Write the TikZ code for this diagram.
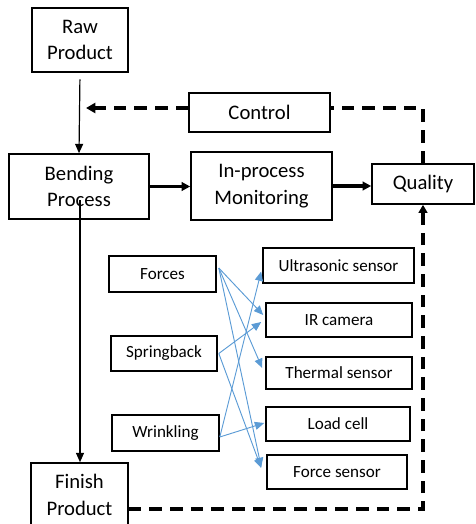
\documentclass[tikz,border=0pt]{standalone}
\usepackage{fontspec}
\setmainfont{Carlito}
\usetikzlibrary{arrows.meta,calc}
\definecolor{linkblue}{RGB}{91,155,213}
\tikzset{
  bigbox/.style={draw,line width=1.2pt,rectangle,align=center,font=\fontsize{15.5}{20}\selectfont,inner sep=0pt},
  smallbox/.style={draw,line width=1.2pt,rectangle,align=center,font=\fontsize{12.8}{15}\selectfont,inner sep=0pt},
  thinarrow/.style={line width=0.9pt,-{Triangle[length=7pt,width=6pt]}},
  thickarrow/.style={line width=2.4pt,-{Triangle[length=6.5pt,width=6.5pt]}},
  dashline/.style={line width=2.6pt,dash pattern=on 9.5pt off 6pt},
  bluearrow/.style={linkblue,line width=0.7pt,-{Triangle[length=7pt,width=6pt]}}
}
\begin{document}
\begin{tikzpicture}[x=0.75pt,y=-0.75pt]
\useasboundingbox (0,0) rectangle (475,524);
% main boxes
\node[bigbox,minimum width=72pt,minimum height=48pt] (raw) at (80,40) {Raw\\Product};
\node[bigbox,minimum width=105.75pt,minimum height=29.25pt] (control) at (259.5,112.5) {Control};
\node[bigbox,minimum width=105pt,minimum height=48.75pt] (bend) at (79,186.5) {Bending\\Process};
\node[bigbox,minimum width=105.75pt,minimum height=51pt] (inproc) at (261.5,186) {In-process\\Monitoring};
\node[bigbox,minimum width=76.5pt,minimum height=30pt] (quality) at (423,184) {Quality};
\node[bigbox,minimum width=72.75pt,minimum height=48pt] (finish) at (79.5,495) {Finish\\Product};
% defects
\node[smallbox,minimum width=80.25pt,minimum height=27pt] (forces) at (162.5,274) {Forces};
\node[smallbox,minimum width=79.5pt,minimum height=26.25pt] (spring) at (164,353.5) {Springback};
\node[smallbox,minimum width=80.25pt,minimum height=27pt] (wrink) at (165.5,433) {Wrinkling};
% sensors
\node[smallbox,minimum width=113.25pt,minimum height=26.25pt] (ultra) at (338.5,265.5) {Ultrasonic sensor};
\node[smallbox,minimum width=109.5pt,minimum height=25.5pt] (ir) at (339,320) {IR camera};
\node[smallbox,minimum width=109.5pt,minimum height=24pt] (thermal) at (339,373) {Thermal sensor};
\node[smallbox,minimum width=108pt,minimum height=25.5pt] (load) at (338,424) {Load cell};
\node[smallbox,minimum width=105pt,minimum height=25.5pt] (fsensor) at (337,472) {Force sensor};
% coordinates
\coordinate (c1) at (423,108);
\coordinate (c2) at (86,108);
\coordinate (c3) at (423,509);
\coordinate (bstart) at (80,200);
% main flow
\draw[thinarrow,shorten <=5pt] (raw.south) -- (bend.north);
\draw[thinarrow] (bstart) -- (bstart |- finish.north);
\draw[thickarrow] (bend.east) -- (inproc.west |- bend.east);
\draw[thickarrow] (inproc.east) -- (quality.west |- inproc.east);
% feedback
\draw[dashline] (quality.north) -- (c1) -- (control.east |- c1);
\draw[dashline,-{Triangle[length=7pt,width=7.5pt]}] (control.west |- c1) -- (c2);
\draw[dashline,line join=miter] (finish.east |- c3) -- (c3) -- ($(quality.south)+(0,8)$);
\draw[line width=2.4pt,-{Triangle[length=6pt,width=6.5pt]}] ($(quality.south)+(0,10)$) -- (quality.south);
% blue links
\draw[bluearrow] ($(forces.east)+(2,-6)$) -- ($(ir.west)+(-2,-5)$);
\draw[bluearrow] ($(forces.east)+(2,-6)$) -- ($(thermal.west)+(-3,-5)$);
\draw[bluearrow] ($(forces.east)+(2,-6)$) -- ($(fsensor.west)+(-5,-5)$);
\draw[bluearrow] ($(spring.east)+(1,0)$) -- ($(ir.west)+(-4,2)$);
\draw[bluearrow] ($(spring.east)+(1,0)$) -- ($(fsensor.west)+(-5,-4)$);
\draw[bluearrow] ($(wrink.east)+(0,4)$) -- ($(ultra.west)+(-1,6)$);
\draw[bluearrow] ($(wrink.east)+(0,4)$) -- ($(load.west)+(-1,-1)$);
\end{tikzpicture}
\end{document}
